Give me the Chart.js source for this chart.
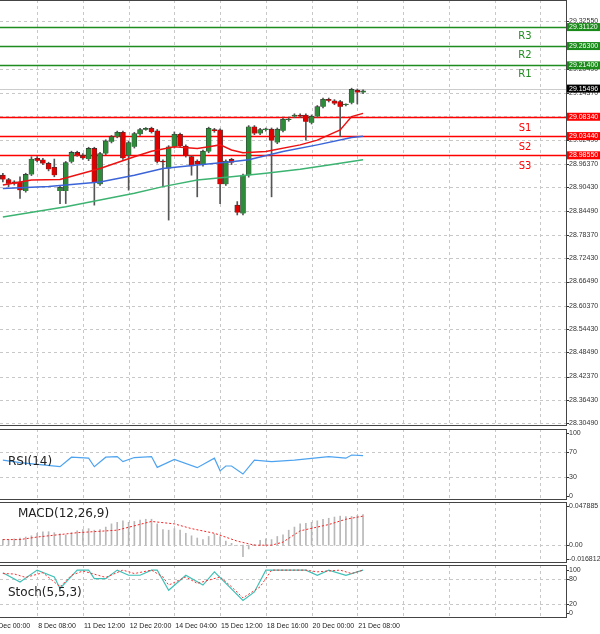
<!DOCTYPE html>
<html><head><meta charset="utf-8">
<script src="https://cdn.jsdelivr.net/npm/chart.js@4.4.0/dist/chart.umd.min.js"></script>
<style>
body{margin:0;background:#fff;width:600px;height:634px;overflow:hidden;font-family:"Liberation Sans",sans-serif}
canvas{position:absolute;left:0}
</style></head><body>
<canvas id="cMain" style="top:0"></canvas>
<canvas id="cRsi" style="top:428px"></canvas>
<canvas id="cMacd" style="top:501px"></canvas>
<canvas id="cSto" style="top:564px"></canvas>
<script>
// ---- data ----
const openP  = [28.935,28.924,28.918,28.918,28.895,28.937,28.978,28.974,28.965,28.955,28.895,28.895,28.969,28.993,28.986,28.976,29.003,28.912,28.990,29.020,29.033,29.044,28.986,29.007,29.039,29.051,29.054,29.048,28.971,28.952,29.007,29.039,29.009,28.982,28.971,28.962,28.995,29.051,29.050,28.912,28.975,28.859,28.838,28.935,29.058,29.041,29.050,29.052,29.018,29.048,29.075,29.084,29.088,29.088,29.068,29.084,29.109,29.128,29.124,29.122,29.113,29.119,29.151,29.145];
const closeP = [28.924,28.913,28.913,28.897,28.937,28.976,28.972,28.965,28.950,28.935,28.904,28.967,28.993,28.986,28.978,29.003,28.918,28.990,29.022,29.033,29.044,28.978,29.018,29.041,29.051,29.054,29.045,28.969,28.968,29.007,29.039,29.009,28.984,28.958,28.962,28.996,29.054,29.047,28.912,28.971,28.967,28.840,28.935,29.058,29.041,29.051,29.051,29.023,29.052,29.077,29.077,29.088,29.084,29.071,29.085,29.109,29.128,29.124,29.117,29.109,29.114,29.153,29.145,29.149];
const highP  = [28.940,28.927,28.921,28.931,28.940,28.982,28.982,28.978,28.968,28.976,28.907,28.970,28.996,28.996,28.990,29.006,29.006,28.993,29.025,29.036,29.047,29.047,29.021,29.044,29.054,29.056,29.057,29.051,28.974,29.010,29.045,29.042,29.012,28.985,28.974,28.999,29.057,29.054,29.053,28.974,28.978,28.868,28.938,29.061,29.061,29.054,29.055,29.055,29.055,29.080,29.081,29.091,29.091,29.091,29.088,29.112,29.131,29.131,29.127,29.125,29.116,29.156,29.154,29.152];
const lowP   = [28.918,28.906,28.910,28.876,28.892,28.934,28.969,28.962,28.946,28.931,28.863,28.863,28.966,28.983,28.975,28.972,28.859,28.909,28.987,29.017,29.030,28.975,28.897,29.004,29.036,29.049,29.042,28.966,28.906,28.821,29.004,29.006,28.981,28.935,28.880,28.958,28.992,29.044,28.863,28.909,28.962,28.834,28.834,28.930,29.038,29.038,29.047,28.880,29.015,29.045,29.072,29.081,29.081,29.024,29.065,29.081,29.106,29.121,29.114,29.033,29.111,29.116,29.116,29.142];
const maRed   = [[0,28.910],[5,28.923],[10,28.924],[17,28.952],[23,28.982],[26,28.996],[30,29.007],[34,29.003],[36,29.007],[38,29.012],[40,28.999],[42,28.992],[46,28.995],[52,29.012],[55,29.024],[59,29.050],[61,29.084],[63,29.092]];
const maBlue  = [[0,28.901],[8,28.906],[17,28.918],[23,28.935],[28,28.952],[34,28.961],[40,28.969],[43,28.974],[49,28.995],[55,29.012],[61,29.031],[63,29.034]];
const maGreen = [[0,28.829],[11,28.855],[17,28.872],[23,28.889],[28,28.906],[34,28.923],[40,28.931],[46,28.940],[52,28.950],[57,28.961],[63,28.974]];
const levels = [{n:'R3',v:29.3112,c:'#1e8c1e'},{n:'R2',v:29.2630,c:'#1e8c1e'},{n:'R1',v:29.2140,c:'#1e8c1e'},{n:'S1',v:29.0834,c:'#ff0000'},{n:'S2',v:29.0344,c:'#ff0000'},{n:'S3',v:28.9855,c:'#ff0000'}];
const lastPrice = 29.15496;
const priceTicks = [29.3255,29.2643,29.2049,29.1437,29.0843,29.0249,28.9637,28.9043,28.8449,28.7837,28.7243,28.6649,28.6037,28.5443,28.4849,28.4237,28.3643,28.3049];
const rsiPts = [[0,57],[3,53],[10,46.5],[12,61.5],[15,60],[16,46.5],[18,61.5],[20,62.5],[21,54.5],[23,61],[26,62.5],[27,45.5],[30,58],[34,45],[37,60],[38,40],[39,47.6],[40,47.6],[42,35],[44,57],[47,54.5],[51,57],[57,62.5],[60,60],[61,65],[63,64]];
const macdHist = [0.0069,0.0069,0.0077,0.0088,0.0100,0.0115,0.0146,0.0165,0.0165,0.0153,0.0138,0.0126,0.0153,0.0176,0.0192,0.0203,0.0184,0.0192,0.0222,0.0261,0.0280,0.0299,0.0280,0.0291,0.0307,0.0318,0.0318,0.0261,0.0192,0.0184,0.0203,0.0184,0.0146,0.0115,0.0088,0.0069,0.0107,0.0138,0.0107,0.0050,0.0023,0.0000,-0.0142,-0.0046,0.0011,0.0061,0.0077,0.0069,0.0107,0.0126,0.0184,0.0222,0.0261,0.0268,0.0280,0.0299,0.0318,0.0330,0.0345,0.0356,0.0349,0.0352,0.0364,0.0375];
const macdSig = [[0,0.0069],[3,0.0069],[6,0.0100],[13,0.0153],[20,0.0184],[26,0.0291],[30,0.0261],[33,0.0203],[37,0.0146],[41,0.0050],[44,0.0000],[47,0.0000],[49,0.0038],[52,0.0176],[57,0.0253],[60,0.0318],[63,0.0356]];
const stoMain = [[0,94],[3,72],[6,100],[9,84],[10,57],[13,100],[15,100],[16,80],[18,80],[20,100],[22,88],[24,88],[26,100],[27,100],[29,53],[32,88],[35,65],[37,96],[42,29],[44,49],[46,100],[48,100],[51,100],[53,100],[55,88],[57,100],[60,88],[63,100]];
const stoSig = [[0,92],[2,91],[4,83],[7,94],[10,61],[12,88],[14,98],[18,83],[21,100],[23,92],[26,100],[28,84],[29,65],[32,84],[34,69],[38,84],[40,61],[42,35],[45,61],[47,100],[51,100],[53,100],[55,96],[59,100],[61,92],[63,100]];
const dateLabels = ['7 Dec 00:00','8 Dec 08:00','11 Dec 12:00','12 Dec 20:00','14 Dec 04:00','15 Dec 12:00','18 Dec 16:00','20 Dec 00:00','21 Dec 08:00'];
const dateIdx = [-2,6,14,22,30,38,46,54,62];
const NSLOTS = 99;

const slots = Array.from({length:NSLOTS},(_,i)=>i);
const pts = arr => arr.map(p=>({x:p[0],y:p[1]}));
const isUp = i => closeP[i] >= openP[i];
function slotX(xs,i){const a=xs.getPixelForValue(0),b=xs.getPixelForValue(1);return a+i*(b-a);}
const FONT7='7px "Liberation Sans"';

function decor(opts){return {id:'decor',
  beforeDatasetsDraw(ch){
    const {ctx,chartArea:a,scales:{x,y}}=ch;
    ctx.save();ctx.strokeStyle='#c8c8c8';ctx.lineWidth=1;ctx.setLineDash([3,3]);
    for(let i=-2;i<NSLOTS;i+=8){const px=Math.round(slotX(x,i))+0.5;if(px<a.left||px>a.right)continue;ctx.beginPath();ctx.moveTo(px,a.top);ctx.lineTo(px,a.bottom);ctx.stroke();}
    (opts.hgrid||[]).forEach(v=>{const py=Math.round(y.getPixelForValue(v))+0.5;ctx.beginPath();ctx.moveTo(a.left,py);ctx.lineTo(a.right,py);ctx.stroke();});
    ctx.restore();
    if(opts.before)opts.before(ch);
  },
  afterDraw(ch){
    const {ctx,chartArea:a,scales:{y}}=ch;
    ctx.save();ctx.strokeStyle='#444';ctx.lineWidth=1;ctx.setLineDash([]);
    ctx.strokeRect(a.left-0.5,a.top+0.5,a.right-a.left+1,a.bottom-a.top-1);
    ctx.font=FONT7;ctx.fillStyle='#333';ctx.textBaseline='middle';
    (opts.ticks||[]).forEach(v=>{const p=y.getPixelForValue(v);ctx.fillRect(a.right+1,Math.round(p),2,1);ctx.fillText(opts.fmt(v),a.right+3,p);});
    if(opts.title){ctx.fillStyle='#222';ctx.font='12px "DejaVu Sans"';ctx.fillText(opts.title[0],opts.title[1],opts.title[2]);}
    ctx.restore();
    if(opts.after)opts.after(ch);
  }};}

function yAxis(min,max){return {position:'right',min,max,grid:{display:false},border:{display:false},
  afterFit(s){s.width=34;},ticks:{display:false}};}
const xAxis = {type:'category',labels:slots,display:false,offset:true};
const base = {responsive:false,animation:false,maintainAspectRatio:false,events:[],
  plugins:{legend:{display:false},tooltip:{enabled:false}}};

function make(id,h,cfg){const c=document.getElementById(id);c.width=600;c.height=h;c.style.width='600px';c.style.height=h+'px';return new Chart(c,cfg);}

make('cMain',428,{type:'bar',data:{labels:slots,datasets:[
  {type:'line',data:pts(maGreen),borderColor:'#3cb371',borderWidth:1.5,pointRadius:0,spanGaps:true,order:3},
  {type:'line',data:pts(maBlue),borderColor:'#3a64d8',borderWidth:1.5,pointRadius:0,spanGaps:true,order:2},
  {type:'line',data:pts(maRed),borderColor:'#ee1111',borderWidth:1.5,pointRadius:0,spanGaps:true,order:1},
  {data:highP.map((h,i)=>[lowP[i],h]),backgroundColor:'#555',barThickness:1,grouped:false,order:5},
  {data:openP.map((o,i)=>[o,closeP[i]]),backgroundColor:openP.map((o,i)=>isUp(i)?'#2e8b3a':'#e00000'),borderColor:'#333',borderWidth:0.6,barThickness:5,minBarLength:1,grouped:false,order:4}
]},options:{...base,layout:{padding:{top:0,bottom:2}},scales:{x:xAxis,y:yAxis(28.298,29.38)}},
plugins:[decor({hgrid:priceTicks,ticks:priceTicks,fmt:v=>v.toFixed(5),
  before(ch){const {ctx,chartArea:a,scales:{y}}=ch;ctx.save();
    const py=Math.round(y.getPixelForValue(lastPrice))+0.5;ctx.strokeStyle='#ccc';ctx.lineWidth=1;ctx.beginPath();ctx.moveTo(a.left,py);ctx.lineTo(a.right,py);ctx.stroke();
    levels.forEach(l=>{const p=Math.round(y.getPixelForValue(l.v))+0.5;ctx.strokeStyle=l.c;ctx.lineWidth=1.5;ctx.beginPath();ctx.moveTo(a.left,p);ctx.lineTo(a.right,p);ctx.stroke();
      ctx.fillStyle=l.c;ctx.font='10px "DejaVu Sans"';ctx.textAlign='center';ctx.textBaseline='middle';ctx.fillText(l.n,525,p+(l.n[0]==='S'?11:9));});
    ctx.restore();},
  after(ch){const {ctx,chartArea:a,scales:{y}}=ch;ctx.save();ctx.font=FONT7;ctx.textBaseline='middle';
    const box=(v,bg)=>{const p=y.getPixelForValue(v);ctx.fillStyle=bg;ctx.fillRect(a.right+1,p-4,33,8);ctx.fillStyle='#fff';ctx.fillText(v.toFixed(5),a.right+3,p);};
    levels.forEach(l=>box(l.v,l.c==='#ff0000'?'#ff0000':'#1a8a1a'));box(lastPrice,'#000');ctx.restore();}
})]});

make('cRsi',73,{type:'line',data:{labels:slots,datasets:[
  {data:pts(rsiPts),borderColor:'#4da3f0',borderWidth:1.2,pointRadius:0,spanGaps:true}
]},options:{...base,layout:{padding:{top:1,bottom:1}},scales:{x:xAxis,y:yAxis(-6,106)}},
plugins:[decor({hgrid:[70,30],ticks:[100,70,30,0],fmt:v=>String(v),title:['RSI(14)',8,34]})]});

make('cMacd',63,{type:'bar',data:{labels:slots,datasets:[
  {type:'line',data:pts(macdSig),borderColor:'#ff2020',borderWidth:1,borderDash:[2,2],pointRadius:0,spanGaps:true},
  {data:macdHist,backgroundColor:'#b8b8b8',barThickness:1}
]},options:{...base,layout:{padding:{top:1,bottom:1}},scales:{x:xAxis,y:yAxis(-0.0218,0.0529)}},
plugins:[decor({hgrid:[0],ticks:[0.047885,0,-0.016812],fmt:v=>v===0?'0.00':String(v),title:['MACD(12,26,9)',18,13]})]});

make('cSto',70,{type:'line',data:{labels:slots,datasets:[
  {data:pts(stoSig),borderColor:'#ff3030',borderWidth:1,borderDash:[2,2],pointRadius:0,spanGaps:true},
  {data:pts(stoMain),borderColor:'#40c0b8',borderWidth:1.2,pointRadius:0,spanGaps:true}
]},options:{...base,layout:{padding:{top:1,bottom:16}},scales:{x:xAxis,y:yAxis(-12,112)}},
plugins:[decor({hgrid:[80,20],ticks:[100,80,20,0],fmt:v=>String(v),title:['Stoch(5,5,3)',8,29],
  after(ch){const {ctx,chartArea:a,scales:{x}}=ch;ctx.save();ctx.font=FONT7;ctx.fillStyle='#222';ctx.textBaseline='middle';
    dateLabels.forEach((t,k)=>{ctx.fillText(t,slotX(x,dateIdx[k])+1,a.bottom+8);});ctx.restore();}
})]});
</script></body></html>
